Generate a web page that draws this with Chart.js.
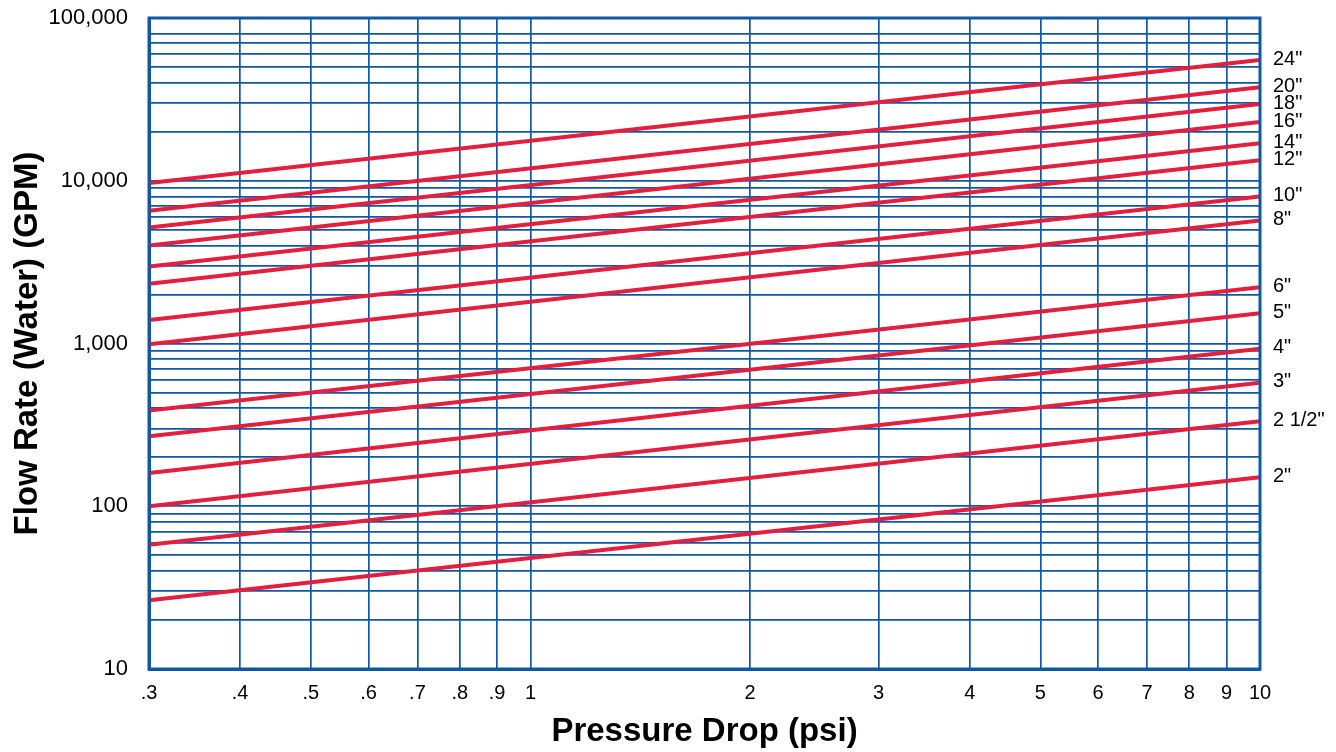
<!DOCTYPE html>
<html>
<head>
<meta charset="utf-8">
<script src="https://cdn.jsdelivr.net/npm/chart.js@4/dist/chart.umd.min.js"></script>
<style>
  html, body { margin: 0; padding: 0; background: #fff; }
  #wrap { width: 1336px; height: 752px; }
</style>
</head>
<body>
<div id="wrap"><canvas id="flowChart"></canvas></div>
<script>
// Line sizes, flow at the two ends of each line
const sizes = ['24"', '20"', '18"', '16"', '14"', '12"', '10"', '8"', '6"', '5"', '4"', '3"', '2 1/2"', '2"'];
const pressureEnds = [0.3, 10];
const flowAtLow = [9680, 6540, 5160, 4000, 2970, 2325, 1396, 990, 387, 269, 160, 100, 58, 26.4];
const flowAtHigh = [55200, 37500, 29600, 22950, 16980, 13350, 8000, 5700, 2220, 1536, 929, 573, 333, 151];

// Grid / tick values
const xTicks = [0.3, 0.4, 0.5, 0.6, 0.7, 0.8, 0.9, 1, 2, 3, 4, 5, 6, 7, 8, 9, 10];
const yTicks = [10, 20, 30, 40, 50, 60, 70, 80, 90,
  100, 200, 300, 400, 500, 600, 700, 800, 900,
  1000, 2000, 3000, 4000, 5000, 6000, 7000, 8000, 9000,
  10000, 20000, 30000, 40000, 50000, 60000, 70000, 80000, 100000];
const yLabels = [10, 100, 1000, 10000, 100000];

const gridBlue = "#0f58a6";
const lineRed = "#e21f3f";
const fontFamily = "'Liberation Sans', Arial, sans-serif";

const datasets = sizes.map((s, i) => ({
  label: s,
  data: [
    { x: pressureEnds[0], y: flowAtLow[i] },
    { x: pressureEnds[1], y: flowAtHigh[i] }
  ],
  borderColor: lineRed,
  borderWidth: 4,
  pointRadius: 0,
  fill: false,
  tension: 0
}));

// labels at the right end of each line
const endLabels = {
  id: "endLabels",
  afterDatasetsDraw(chart) {
    const ctx = chart.ctx;
    ctx.save();
    ctx.font = "20px " + fontFamily;
    ctx.fillStyle = "#000";
    ctx.textBaseline = "middle";
    ctx.textAlign = "left";
    chart.data.datasets.forEach((ds, i) => {
      const pts = chart.getDatasetMeta(i).data;
      const last = pts[pts.length - 1];
      ctx.fillText(ds.label, chart.chartArea.right + 13, last.y - 1);
    });
    ctx.restore();
  }
};

// frame around the plot
const frame = {
  id: "frame",
  afterDraw(chart) {
    const a = chart.chartArea;
    const ctx = chart.ctx;
    ctx.save();
    ctx.strokeStyle = gridBlue;
    ctx.lineWidth = 3;
    ctx.strokeRect(a.left, a.top, a.right - a.left, a.bottom - a.top);
    ctx.restore();
  }
};

new Chart(document.getElementById("flowChart").getContext("2d"), {
  type: "line",
  data: { datasets: datasets },
  plugins: [endLabels, frame],
  options: {
    responsive: true,
    maintainAspectRatio: false,
    animation: false,
    layout: { padding: { left: 8, right: 76, top: 18, bottom: 0 } },
    plugins: { legend: { display: false }, tooltip: { enabled: false } },
    scales: {
      x: {
        type: "logarithmic",
        min: 0.3,
        max: 10,
        afterBuildTicks: (scale) => { scale.ticks = xTicks.map(v => ({ value: v })); },
        afterFit: (scale) => { scale.height = 83; },
        grid: { color: gridBlue, lineWidth: 1.7, drawTicks: false },
        border: { color: gridBlue, width: 3 },
        ticks: {
          color: "#000",
          font: { family: fontFamily, size: 20 },
          padding: 12,
          maxRotation: 0,
          autoSkip: false,
          callback: (v) => v < 1 ? String(v).replace("0.", ".") : String(v)
        },
        title: {
          display: true,
          text: "Pressure Drop (psi)",
          color: "#000",
          font: { family: fontFamily, size: 33, weight: "bold" },
          padding: { top: 0, bottom: 0 }
        }
      },
      y: {
        type: "logarithmic",
        min: 10,
        max: 100000,
        afterBuildTicks: (scale) => { scale.ticks = yTicks.map(v => ({ value: v })); },
        afterFit: (scale) => {
          scale.width = 141;
          scale.paddingTop = 0;
          scale.paddingBottom = 0;
        },
        grid: { color: gridBlue, lineWidth: 1.7, drawTicks: false },
        border: { color: gridBlue, width: 3 },
        ticks: {
          color: "#000",
          font: { family: fontFamily, size: 22 },
          padding: 21,
          autoSkip: false,
          callback: (v) => yLabels.includes(v) ? v.toLocaleString("en-US") : ""
        },
        title: {
          display: true,
          text: "Flow Rate (Water) (GPM)",
          color: "#000",
          font: { family: fontFamily, size: 33, weight: "bold" },
          padding: { top: 0, bottom: 0 }
        }
      }
    }
  }
});
</script>
</body>
</html>
